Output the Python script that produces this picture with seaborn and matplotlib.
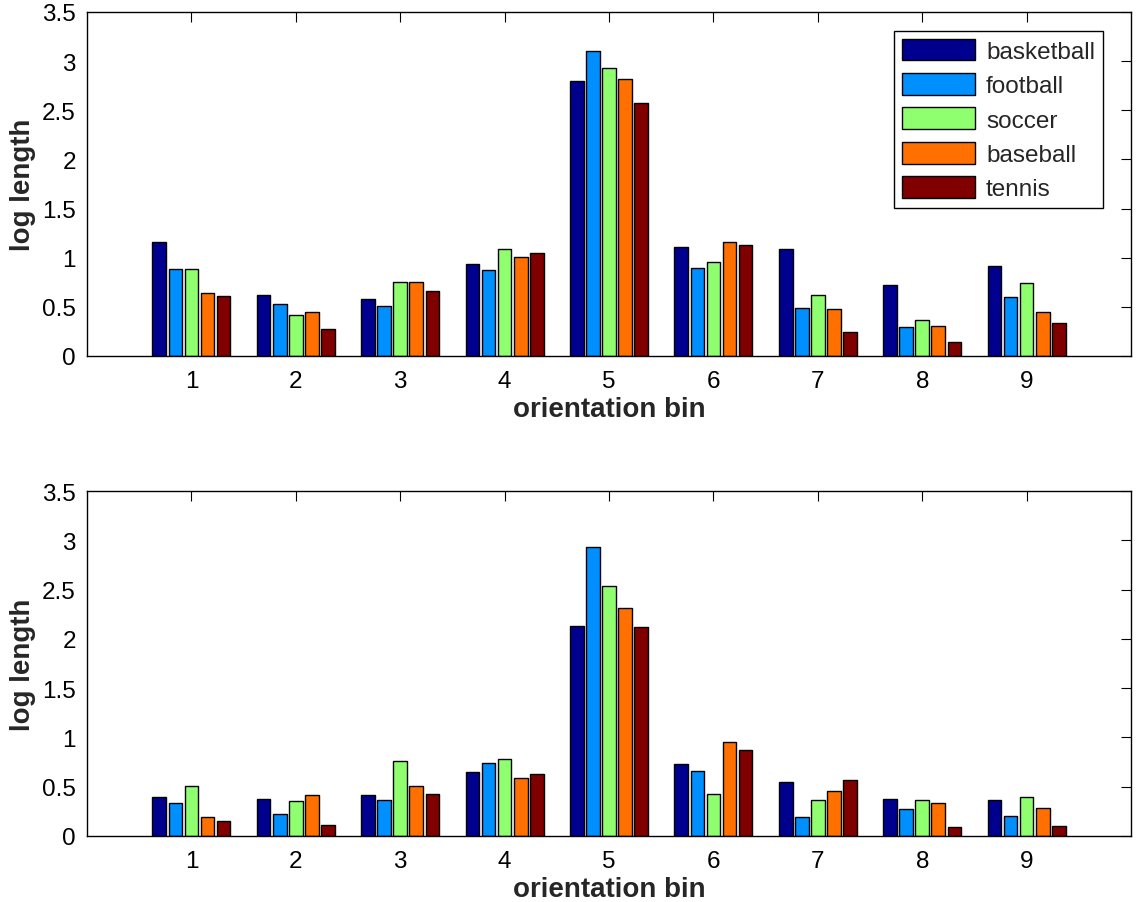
import numpy as np
import pandas as pd
import matplotlib
matplotlib.use("Agg")
import matplotlib.pyplot as plt
import seaborn as sns

# data
bins = [1, 2, 3, 4, 5, 6, 7, 8, 9]
sports = ["basketball", "football", "soccer", "baseball", "tennis"]

top_basketball = [1.16, 0.62, 0.58, 0.94, 2.80, 1.11, 1.09, 0.72, 0.92]
top_football = [0.88, 0.53, 0.51, 0.87, 3.10, 0.89, 0.49, 0.29, 0.60]
top_soccer = [0.88, 0.42, 0.75, 1.09, 2.93, 0.96, 0.62, 0.37, 0.74]
top_baseball = [0.64, 0.45, 0.75, 1.01, 2.82, 1.16, 0.48, 0.30, 0.45]
top_tennis = [0.61, 0.27, 0.66, 1.05, 2.57, 1.13, 0.24, 0.14, 0.34]

bot_basketball = [0.40, 0.38, 0.42, 0.65, 2.13, 0.73, 0.55, 0.38, 0.37]
bot_football = [0.33, 0.22, 0.37, 0.74, 2.93, 0.66, 0.19, 0.27, 0.20]
bot_soccer = [0.51, 0.36, 0.76, 0.78, 2.54, 0.43, 0.37, 0.37, 0.40]
bot_baseball = [0.19, 0.42, 0.51, 0.59, 2.31, 0.95, 0.46, 0.33, 0.28]
bot_tennis = [0.15, 0.11, 0.43, 0.63, 2.12, 0.87, 0.57, 0.09, 0.10]

colors = ["#00008f", "#008fff", "#8fff70", "#ff7000", "#800000"]
yticks = [0, 0.5, 1, 1.5, 2, 2.5, 3, 3.5]
ytick_labels = ["0", "0.5", "1", "1.5", "2", "2.5", "3", "3.5"]


def long_form(series):
    rows = []
    for name, vals in zip(sports, series):
        for b, v in zip(bins, vals):
            rows.append({"bin": b, "sport": name, "value": v})
    return pd.DataFrame(rows)


df_top = long_form([top_basketball, top_football, top_soccer, top_baseball, top_tennis])
df_bot = long_form([bot_basketball, bot_football, bot_soccer, bot_baseball, bot_tennis])

sns.set_style("white")
plt.rcParams["font.family"] = ["Liberation Sans", "DejaVu Sans"]

fig = plt.figure(figsize=(11.39, 9.03), dpi=100)
ax1 = fig.add_axes([0.0764, 0.6047, 0.9166, 0.381])
ax2 = fig.add_axes([0.0764, 0.0731, 0.9166, 0.382])

for ax, df in [(ax1, df_top), (ax2, df_bot)]:
    sns.barplot(data=df, x="bin", y="value", hue="sport", hue_order=sports,
                palette=colors, native_scale=True, width=0.77, gap=0.15,
                edgecolor="black", linewidth=1.0, saturation=1, ax=ax,
                legend=(ax is ax1))
    ax.set_xlim(0, 10)
    ax.set_ylim(0, 3.5)
    ax.set_xticks(bins)
    ax.set_xticklabels([str(b) for b in bins])
    ax.set_yticks(yticks)
    ax.set_yticklabels(ytick_labels)
    ax.tick_params(direction="in", length=7, width=0.8, labelsize=17.5,
                   top=True, right=True, colors="black")
    ax.tick_params(axis="x", pad=10)
    ax.tick_params(axis="y", pad=8)
    for s in ax.spines.values():
        s.set_visible(True)
        s.set_color("black")
        s.set_linewidth(1.0)
    ax.set_xlabel("orientation bin", fontsize=20, fontweight="bold", labelpad=3)
    ax.set_ylabel("log length", fontsize=20, fontweight="bold", labelpad=4)

handles, labels = ax1.get_legend_handles_labels()
ax1.legend(handles, labels, loc="upper right", bbox_to_anchor=(0.973, 0.945),
           borderaxespad=0, fontsize=17.5, handlelength=3.0, handleheight=1.0,
           labelspacing=0.42, handletextpad=0.45, borderpad=0.32,
           frameon=True, fancybox=False, edgecolor="black", framealpha=1)
ax1.get_legend().get_frame().set_linewidth(1.0)

fig.savefig("out.png", dpi=100)
